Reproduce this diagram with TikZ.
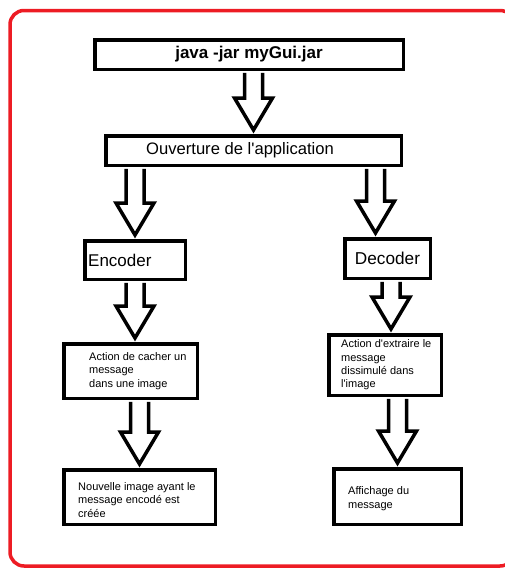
\documentclass[tikz,border=0pt]{standalone}
\usepackage{fontspec}
\setmainfont{Liberation Sans}
\usetikzlibrary{calc}
\definecolor{framered}{RGB}{237,28,36}

\tikzset{
  box/.style={draw, line width=3.5pt, fill=white, inner sep=0pt, line join=miter},
  boxtext/.style={anchor=west, align=left, inner sep=0pt},
  smalltext/.style={boxtext, font=\fontsize{11}{13.3}\selectfont},
  fatarrow/.style={draw, line width=3.5pt, fill=white, line join=miter, miter limit=10},
}

% block arrow: #1 x shift, #2 node giving the axis, #3 from, #4 to
\newcommand{\blockarrow}[4][0]{%
  \draw[fatarrow] let \p1=($(#2 |- #3.south)+(#1,0)$), \p2=($(#2 |- #4.north)+(#1,0)$) in
    (\x1-9pt,\y1-1.75pt) -- (\x1-9pt,\y2+36pt) -- (\x1-19pt,\y2+36pt) -- (\x1,\y2+4pt)
    -- (\x1+19pt,\y2+36pt) -- (\x1+9pt,\y2+36pt) -- (\x1+9pt,\y1-1.75pt);
}

\begin{document}
\begin{tikzpicture}[x=1pt, y=-1pt]
    \useasboundingbox (0,0) rectangle (504,568);
    % cadre
    \draw[framered, line width=3.5pt, rounded corners=14pt] (10,10.5) rectangle (514,566);
    % boites
    \node[box, minimum width=308.5pt, minimum height=29.5pt, font=\fontsize{17}{20}\selectfont\bfseries] (java) at (249,54.5) {java -jar myGui.jar};
    \node[box, minimum width=295.5pt, minimum height=29.5pt] (ouv) at (253.5,150.5) {};
    \node[box, minimum width=100.5pt, minimum height=38.5pt] (enc) at (135,260) {};
    \node[box, minimum width=85.5pt, minimum height=39.5pt, font=\fontsize{17.2}{20}\selectfont] (dec) at (387.5,258.5) {Decoder};
    \node[box, minimum width=133.5pt, minimum height=54.5pt] (act1) at (130.5,371) {};
    \node[box, minimum width=151.5pt, minimum height=54.5pt] (nouv) at (139.5,497) {};
    \node[box, minimum width=112.5pt, minimum height=60.5pt] (act2) at (385,365) {};
    \node[box, minimum width=127.5pt, minimum height=55.5pt] (aff) at (397.5,496.5) {};
    % textes
    \node[boxtext, font=\fontsize{16.6}{20}\selectfont] (ouv-txt) at ([xshift=42pt]ouv.west) {Ouverture de l\textquotesingle application};
    \node[boxtext, font=\fontsize{17}{20}\selectfont] (enc-txt) at ([xshift=5pt]enc.west) {Encoder};
    \node[smalltext] (act1-txt) at ([xshift=27pt]act1.west) {Action de cacher un\\message\\dans une image};
    \begin{scope}
      \clip (62,468) rectangle (217,516.5);
      \node[smalltext] (nouv-txt) at ([xshift=16pt,yshift=-3pt]nouv.west) {Nouvelle image ayant le\\message encodé est\\créée};
    \end{scope}
    \node[smalltext] (act2-txt) at ([xshift=14pt]act2.west) {Action d\textquotesingle extraire le\\message\\dissimulé dans\\l\textquotesingle image};
    \node[smalltext] (aff-txt) at ([xshift=16pt,yshift=-2pt]aff.west) {Affichage du\\message};
    % fleches
    \blockarrow{ouv}{java}{ouv}
    \blockarrow{enc}{ouv}{enc}
    \blockarrow[-12]{dec}{ouv}{dec}
    \blockarrow{enc}{enc}{act1}
    \blockarrow{nouv}{act1}{nouv}
    \blockarrow[3.5]{dec}{dec}{act2}
    \blockarrow{aff}{act2}{aff}
\end{tikzpicture}
\end{document}
